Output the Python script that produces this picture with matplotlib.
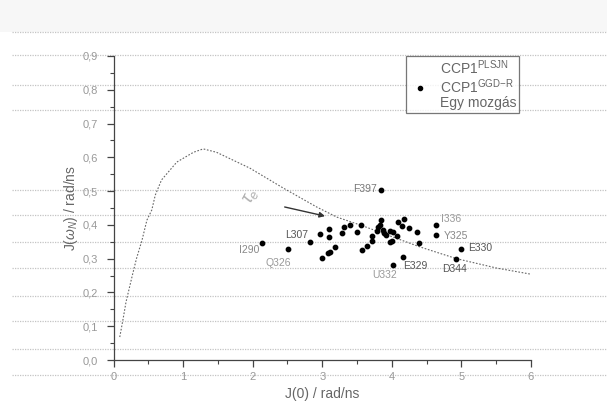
import matplotlib
matplotlib.use("Agg")
import matplotlib.pyplot as plt
from matplotlib.lines import Line2D
from matplotlib.patches import Rectangle
from matplotlib.ticker import MultipleLocator, FuncFormatter

plt.rcParams['font.family'] = ['Liberation Sans', 'DejaVu Sans']
plt.rcParams['mathtext.fontset'] = 'custom'
plt.rcParams['mathtext.rm'] = 'Liberation Sans'
plt.rcParams['mathtext.it'] = 'Liberation Sans:italic'

# theoretical single-motion curve
curve_x = [0.09, 0.14, 0.18, 0.27, 0.33, 0.41, 0.48, 0.55, 0.60, 0.69, 0.91, 1.15,
           1.29, 1.48, 1.96, 2.44, 2.92, 3.21, 3.57, 4.40, 4.93, 5.51, 6.00]
curve_y = [0.068, 0.124, 0.172, 0.25, 0.30, 0.355, 0.414, 0.444, 0.488, 0.533, 0.586, 0.615,
           0.625, 0.615, 0.568, 0.509, 0.453, 0.423, 0.398, 0.335, 0.30, 0.272, 0.254]

# measured points
pts_x = [2.14, 2.51, 2.82, 2.97, 3.09, 3.10, 3.18, 3.11, 3.08, 3.00, 3.28, 3.31, 3.40, 3.50,
         3.55, 3.57, 3.64, 3.71, 3.72, 3.78, 3.84, 3.83, 3.80, 3.87, 3.89, 3.92, 3.97, 4.01,
         4.00, 3.98, 4.07, 4.09, 4.17, 4.14, 4.25, 4.36, 4.39, 4.16, 4.01, 3.85, 4.64, 4.64,
         5.00, 4.92]
pts_y = [0.345, 0.328, 0.350, 0.373, 0.387, 0.365, 0.335, 0.320, 0.316, 0.303, 0.377, 0.393,
         0.401, 0.380, 0.401, 0.325, 0.338, 0.368, 0.353, 0.382, 0.414, 0.399, 0.394, 0.385,
         0.375, 0.370, 0.383, 0.380, 0.353, 0.348, 0.367, 0.409, 0.416, 0.396, 0.390, 0.378,
         0.345, 0.306, 0.281, 0.503, 0.399, 0.370, 0.328, 0.299]

# residue labels
lab_text = ["F397", "I290", "Q326", "L307", "U332", "E329", "I336", "Y325", "E330", "D344"]
lab_x = [3.79, 2.09, 2.18, 2.47, 3.72, 4.16, 4.71, 4.74, 5.10, 4.72]
lab_y = [0.506, 0.325, 0.288, 0.370, 0.251, 0.279, 0.416, 0.367, 0.332, 0.269]
lab_ha = ["right", "right", "left", "left", "left", "left", "left", "left", "left", "left"]
lab_col = ["#777777", "#888888", "#999999", "#555555", "#999999", "#555555", "#999999",
           "#888888", "#555555", "#555555"]

fig = plt.figure(figsize=(6.07, 4.05), dpi=100)
fig.patch.set_facecolor('white')

# scan-like background artefacts
fig.add_artist(Rectangle((0, 1 - 32 / 405), 1, 32 / 405, transform=fig.transFigure,
                         facecolor='#f7f7f7', edgecolor='none', zorder=-5))
for py in [32, 55, 85, 110, 190, 215, 242, 268, 296, 321, 349, 375]:
    fig.add_artist(Line2D([0.02, 1.0], [1 - py / 405] * 2, transform=fig.transFigure,
                          color='#c4c4c4', lw=0.9, ls=(0, (1, 1)), zorder=-4))

ax = fig.add_axes([113.5 / 607, 1 - 360 / 405, (531 - 113.5) / 607, (360 - 56) / 405])
ax.set_facecolor('none')
ax.set_xlim(0, 6)
ax.set_ylim(0, 0.9)

ax.plot(curve_x, curve_y, color='#666666', lw=0.8, ls=(0, (1.5, 1.5)))
ax.scatter(pts_x, pts_y, s=10, color='black', zorder=3)

for t, x, y, ha, c in zip(lab_text, lab_x, lab_y, lab_ha, lab_col):
    ax.text(x, y, t, ha=ha, va='center', fontsize=7.5, color=c)

ax.annotate("", xy=(3.04, 0.426), xytext=(2.46, 0.453),
            arrowprops=dict(arrowstyle='-|>', color='#333333', lw=1.0,
                            mutation_scale=8, shrinkA=0, shrinkB=0))
ax.text(1.98, 0.485, r"$\tau_e$", rotation=62, fontsize=13, color='#b0b0b0',
        ha='center', va='center')

for s in ['top', 'right']:
    ax.spines[s].set_visible(False)
for s in ['left', 'bottom']:
    ax.spines[s].set_color('#444444')
    ax.spines[s].set_linewidth(0.9)

ax.xaxis.set_major_locator(MultipleLocator(1))
ax.xaxis.set_minor_locator(MultipleLocator(0.5))
ax.yaxis.set_major_locator(MultipleLocator(0.1))
ax.yaxis.set_minor_locator(MultipleLocator(0.05))
ax.yaxis.set_major_formatter(FuncFormatter(lambda v, p: f"{v:.1f}".replace('.', ',')))
ax.xaxis.set_major_formatter(FuncFormatter(lambda v, p: f"{v:.0f}"))
ax.tick_params(which='major', direction='out', length=5, width=0.9, color='#444444',
               labelsize=8, labelcolor='#999999', pad=6)
ax.tick_params(axis='x', which='major', pad=4)
ax.tick_params(which='minor', direction='out', length=3, width=0.8, color='#444444')

ax.set_xlabel("J(0) / rad/ns", fontsize=10, color='#666666', labelpad=3)
ax.set_ylabel(r"J($\omega_N$) / rad/ns", fontsize=10, color='#666666', labelpad=2)

handles = [Line2D([], [], color='none'),
           Line2D([], [], marker='o', ls='none', color='black', ms=3),
           Line2D([], [], color='none')]
labels = [r"CCP1$^{\mathregular{PLSJN}}$", r"CCP1$^{\mathregular{GGD\!-\!R}}$", "Egy mozgás"]
leg = ax.legend(handles, labels, loc='upper left',
                bbox_to_anchor=((405.7 - 113.5) / 417.5, 1.0), borderaxespad=0,
                fontsize=10, frameon=True, fancybox=False, borderpad=0.2,
                handlelength=1.6, handletextpad=0.65, labelspacing=0.0)
leg.get_frame().set_edgecolor('#555555')
leg.get_frame().set_linewidth(0.9)
for t in leg.get_texts():
    t.set_color('#666666')

fig.savefig("out.png", dpi=100)
